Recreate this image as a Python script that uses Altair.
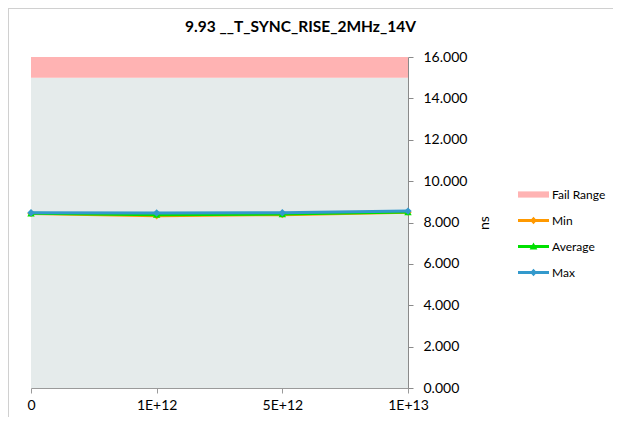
import altair as alt
import pandas as pd

# ---- data ----
categories = ["0", "1E+12", "5E+12", "1E+13"]
min_vals = [8.44, 8.33, 8.38, 8.50]
avg_vals = [8.45, 8.38, 8.41, 8.51]
max_vals = [8.47, 8.46, 8.47, 8.55]
series_names = ["Min", "Average", "Max"]
series_shapes = ["diamond", "triangle-up", "diamond"]
legend_names = ["Fail Range", "Min", "Average", "Max"]
legend_colors = ["#FFB3B3", "#FF9900", "#00E000", "#3399CC"]
pass_range = [0, 15]
fail_range = [15, 16]
y_ticks = [0, 2, 4, 6, 8, 10, 12, 14, 16]

rows = []
for name, vals in zip(series_names, [min_vals, avg_vals, max_vals]):
    for c, v in zip(categories, vals):
        rows.append({"cat": c, "series": name, "value": v})
df = pd.DataFrame(rows)

FONT = "Lato"
W, H = 377, 331

x_enc = alt.X("cat:N", sort=categories,
              scale=alt.Scale(type="point", padding=0),
              axis=alt.Axis(title=None, labelAngle=0, labelFontSize=14, labelFont=FONT,
                            labelColor="#000000", domainColor="#9A9A9A", tickColor="#9A9A9A",
                            tickSize=5, labelPadding=5, grid=False))
y_scale = alt.Scale(domain=[0, 16], nice=False, zero=False)
y_enc = alt.Y("value:Q", scale=y_scale,
              axis=alt.Axis(orient="right", title="ns", titleAngle=270, titleFontSize=14,
                            titleFont=FONT, titleFontWeight="normal", titleColor="#000000",
                            values=y_ticks, format=".3f", labelFontSize=14, labelFont=FONT,
                            labelColor="#000000", domainColor="#8A8A8A", tickColor="#8A8A8A",
                            tickSize=5, labelPadding=10, titlePadding=25, grid=False))

color_scale = alt.Scale(domain=legend_names, range=legend_colors)

bar = "M-1,-0.1H1V0.1H-1Z"
legend_paths = [
    "M-1,-0.2H1V0.2H-1Z",
    bar + "M0,-0.24L0.22,0L0,0.24L-0.22,0Z",
    bar + "M0,-0.26L0.25,0.2H-0.25Z",
    bar + "M0,-0.24L0.22,0L0,0.24L-0.22,0Z",
]

legend_cfg = dict(orient="none", legendX=487, legendY=122,
                  labelFont=FONT, labelFontSize=12, labelColor="#000000",
                  symbolSize=961, symbolStrokeWidth=0, labelOffset=3, rowPadding=4)

base = alt.Chart(df)

# legend carrier (draws nothing; legend comes from scale domains)
carrier = base.transform_filter("datum.value < 0").mark_point(
    filled=True, opacity=1, size=961, strokeWidth=0
).encode(
    x=x_enc, y=y_enc,
    color=alt.Color("series:N", scale=color_scale, title=None, legend=alt.Legend(**legend_cfg)),
    shape=alt.Shape("series:N", scale=alt.Scale(domain=legend_names, range=legend_paths),
                    title=None, legend=alt.Legend(**legend_cfg)),
)

pass_df = pd.DataFrame({"lo": [pass_range[0]], "hi": [pass_range[1]]})
fail_df = pd.DataFrame({"lo": [fail_range[0]], "hi": [fail_range[1]], "series": ["Fail Range"]})

pass_rect = alt.Chart(pass_df).mark_rect(color="#E5EBEB").encode(
    x=alt.value(0), x2=alt.value("width"),
    y=alt.Y("lo:Q", scale=y_scale), y2="hi:Q")
fail_rect = alt.Chart(fail_df).mark_rect().encode(
    x=alt.value(0), x2=alt.value("width"),
    y=alt.Y("lo:Q", scale=y_scale), y2="hi:Q",
    color=alt.Color("series:N", scale=color_scale, legend=None))

marker_layers = []
for name, shp in zip(series_names, series_shapes):
    marker_layers.append(
        base.transform_filter(alt.datum.series == name).mark_point(
            filled=True, shape=shp, size=55, opacity=1
        ).encode(x=x_enc, y=y_enc,
                 color=alt.Color("series:N", scale=color_scale, legend=None))
    )

line_layers = []
for name in series_names:
    line_layers.append(
        base.transform_filter(alt.datum.series == name).mark_line(strokeWidth=3).encode(
            x=x_enc, y=y_enc,
            color=alt.Color("series:N", scale=color_scale, legend=None))
    )

frame_df = pd.DataFrame({"a": [0]})
left_border = alt.Chart(frame_df).mark_rule(color="#D0D0D0", strokeWidth=1).encode(
    x=alt.value(-22.5), y=alt.value(-49), y2=alt.value(H + 29))
top_border = alt.Chart(frame_df).mark_rule(color="#D0D0D0", strokeWidth=1).encode(
    x=alt.value(-23), x2=alt.value(W + 205), y=alt.value(-48.5))

layers = [carrier, pass_rect, fail_rect]
for i in range(3):
    layers.append(line_layers[i])
    layers.append(marker_layers[i])
layers += [left_border, top_border]

chart = alt.layer(*layers).resolve_scale(color="shared", shape="shared").properties(
    width=W, height=H,
    padding={"left": 23, "top": 49, "right": 205, "bottom": 29},
    autosize=alt.AutoSizeParams(type="none"),
    title=alt.TitleParams("9.93 __T_SYNC_RISE_2MHz_14V", font=FONT, fontSize=15.5,
                          fontWeight="bold", color="#000000", anchor="middle",
                          frame="group", dx=81, dy=46, offset=18),
).configure_view(stroke=None)

chart.save("out.html", embed_options={"renderer": "svg", "actions": False})
